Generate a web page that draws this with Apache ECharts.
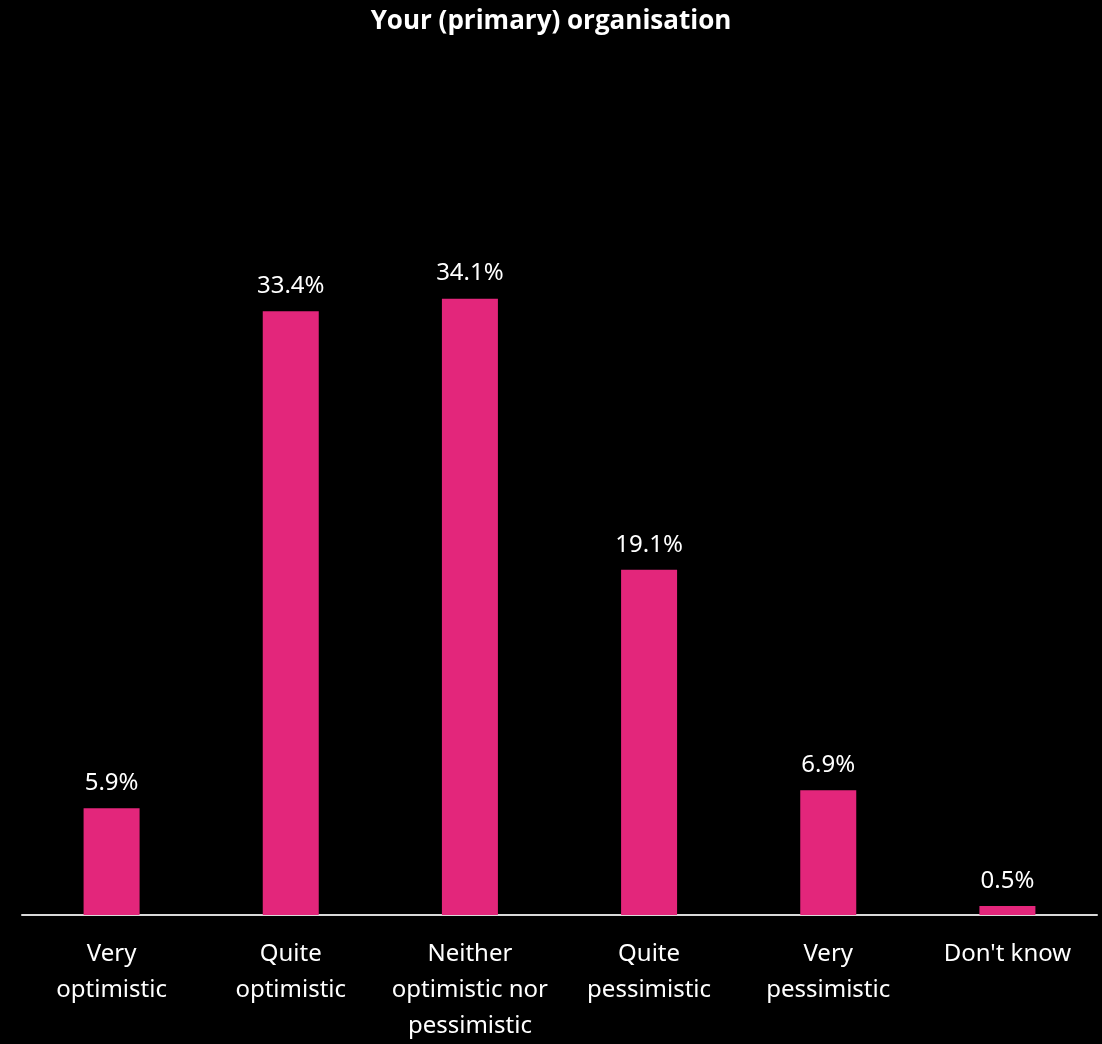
<!DOCTYPE html>
<html>
<head>
<meta charset="utf-8">
<script src="https://cdn.jsdelivr.net/npm/echarts@6/dist/echarts.min.js"></script>
<style>
  html, body { margin: 0; padding: 0; background: #000; }
  #chart { width: 1102px; height: 1044px; }
</style>
</head>
<body>
<div id="chart"></div>
<script>
var categories = ['Very\noptimistic', 'Quite\noptimistic', 'Neither\noptimistic nor\npessimistic', 'Quite\npessimistic', 'Very\npessimistic', "Don't know"];
var values = [5.9, 33.4, 34.1, 19.1, 6.9, 0.5];

var chart = echarts.init(document.getElementById('chart'));
chart.setOption({
  backgroundColor: '#000',
  title: {
    text: 'Your (primary) organisation',
    left: 'center',
    top: 4,
    textStyle: { color: '#fff', fontSize: 26, fontWeight: 'bold', fontFamily: 'Open Sans' }
  },
  grid: { left: 22, right: 5, top: 192, bottom: 125, containLabel: false },
  xAxis: {
    type: 'category',
    data: categories,
    axisLine: { lineStyle: { color: '#d9d9d9', width: 2 } },
    axisTick: { show: false },
    axisLabel: {
      color: '#fff',
      fontSize: 24,
      fontFamily: 'Noto Sans',
      lineHeight: 36,
      margin: 21,
      interval: 0
    }
  },
  yAxis: {
    type: 'value',
    min: 0,
    max: 40,
    show: false,
    splitLine: { show: false }
  },
  series: [{
    type: 'bar',
    data: values,
    barWidth: 56,
    itemStyle: { color: '#e3267b' },
    label: {
      show: true,
      position: 'top',
      distance: 13,
      color: '#fff',
      fontSize: 24,
      fontFamily: 'Noto Sans',
      formatter: function (p) { return p.value.toFixed(1) + '%'; }
    }
  }]
});
</script>
</body>
</html>
